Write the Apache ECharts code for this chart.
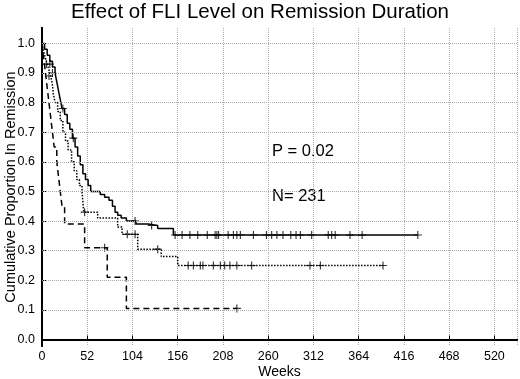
<!DOCTYPE html>
<html>
<head>
<meta charset="utf-8">
<script src="https://cdn.jsdelivr.net/npm/echarts@6/dist/echarts.min.js"></script>
<style>
  html, body { margin: 0; padding: 0; background: #fff; }
  #chart { width: 520px; height: 379px; }
</style>
</head>
<body>
<div id="chart"></div>
<script>
// x ticks in weeks, y ticks as proportions
const xTicks = [0, 52, 104, 156, 208, 260, 312, 364, 416, 468, 520];
const yTicks = [0, 0.1, 0.2, 0.3, 0.4, 0.5, 0.6, 0.7, 0.8, 0.9, 1.0];

// solid curve
const solidWeeks = [0, 3, 6, 9, 12, 15, 17, 19, 21, 23, 26, 29, 32, 35, 38, 41, 44, 47, 50, 53, 56, 67, 72, 77, 81, 84, 87, 91, 97, 108, 122, 133, 151, 432];
const solidSurv = [1.0, 0.98, 0.96, 0.94, 0.92, 0.90, 0.87, 0.84, 0.81, 0.78, 0.76, 0.73, 0.71, 0.68, 0.65, 0.62, 0.59, 0.56, 0.54, 0.52, 0.50, 0.49, 0.48, 0.47, 0.45, 0.43, 0.42, 0.41, 0.40, 0.39, 0.385, 0.375, 0.353, 0.353];
const solidCensWeeks = [9, 12, 24, 36, 107, 126, 153, 161, 170, 179, 190, 199, 201, 203, 214, 220, 224, 228, 243, 258, 264, 270, 277, 286, 292, 297, 310, 329, 333, 337, 354, 368, 432];
const solidCensSurv = [0.93, 0.90, 0.78, 0.68, 0.40, 0.385, 0.353, 0.353, 0.353, 0.353, 0.353, 0.353, 0.353, 0.353, 0.353, 0.353, 0.353, 0.353, 0.353, 0.353, 0.353, 0.353, 0.353, 0.353, 0.353, 0.353, 0.353, 0.353, 0.353, 0.353, 0.353, 0.353, 0.353];

// dotted curve
const dotWeeks = [0, 2, 4, 6, 8, 10, 12, 13, 15, 18, 21, 24, 27, 30, 34, 37, 40, 43, 46, 48, 64, 87, 92, 110, 137, 156, 392];
const dotSurv = [1.0, 0.97, 0.95, 0.93, 0.91, 0.89, 0.86, 0.83, 0.80, 0.77, 0.74, 0.70, 0.67, 0.64, 0.60, 0.57, 0.54, 0.52, 0.50, 0.43, 0.41, 0.38, 0.355, 0.305, 0.28, 0.25, 0.25];
const dotCensWeeks = [5, 8, 49, 98, 107, 133, 168, 174, 182, 185, 197, 205, 210, 216, 224, 241, 308, 320, 392];
const dotCensSurv = [0.93, 0.89, 0.43, 0.355, 0.355, 0.305, 0.25, 0.25, 0.25, 0.25, 0.25, 0.25, 0.25, 0.25, 0.25, 0.25, 0.25, 0.25, 0.25];

// dashed curve
const dashWeeks = [0, 2, 4, 6, 8, 10, 12, 14, 17, 19, 21, 23, 26, 49, 75, 97, 224];
const dashSurv = [1.0, 0.95, 0.90, 0.85, 0.80, 0.75, 0.70, 0.65, 0.60, 0.55, 0.50, 0.45, 0.39, 0.31, 0.21, 0.105, 0.105];
const dashCensWeeks = [72, 224];
const dashCensSurv = [0.31, 0.105];

const FONT = 'Liberation Sans, Arial, sans-serif';
const CROSS = 'path://M4.3,0H5.7V10H4.3ZM0,4.3H10V5.7H0Z';

const chart = echarts.init(document.getElementById('chart'));

function pairs(xs, ys) {
  return xs.map((x, i) => [x, ys[i]]);
}

function curve(name, xs, ys, lineType) {
  return {
    name: name,
    type: 'line',
    step: 'end',
    showSymbol: false,
    z: 3,
    data: pairs(xs, ys),
    lineStyle: { color: '#000', width: 1.5, type: lineType },
    itemStyle: { color: '#000' }
  };
}

function censors(name, xs, ys) {
  return {
    name: name,
    type: 'scatter',
    symbol: CROSS,
    symbolSize: 8,
    z: 4,
    data: pairs(xs, ys),
    itemStyle: { color: '#000' }
  };
}

chart.setOption({
  animation: false,
  textStyle: { fontFamily: FONT },
  title: {
    text: 'Effect of FLI Level on Remission Duration',
    left: 'center',
    top: 2,
    padding: 0,
    textStyle: { fontFamily: FONT, fontSize: 20.5, fontWeight: 'normal', color: '#000' }
  },
  grid: { left: 42, right: 3, top: 28, bottom: 33, outerBoundsMode: 'none', containLabel: false },
  xAxis: [{
    type: 'value',
    min: 0,
    max: 546,
    interval: 52,
    name: 'Weeks',
    nameLocation: 'middle',
    nameGap: 19,
    nameMoveOverlap: false,
    nameTextStyle: { fontFamily: FONT, fontSize: 14, color: '#000' },
    axisLine: { lineStyle: { color: '#000', width: 2 } },
    axisTick: { inside: true, length: 4, lineStyle: { color: '#000' } },
    axisLabel: { showMaxLabel: false, margin: 4, fontFamily: FONT, fontSize: 12.5, color: '#000' },
    splitLine: { lineStyle: { type: 'dotted', color: '#aaa', width: 1 } }
  }, {
    type: 'value',
    position: 'top',
    min: 0,
    max: 546,
    axisLine: { show: true, lineStyle: { color: '#000', width: 2 } },
    axisTick: { show: false },
    axisLabel: { show: false },
    splitLine: { show: false }
  }],
  yAxis: [{
    type: 'value',
    min: -0.022,
    max: 1.052,
    name: 'Cumulative Proportion In Remission',
    nameLocation: 'middle',
    nameGap: 24,
    nameMoveOverlap: false,
    nameTextStyle: { fontFamily: FONT, fontSize: 14.5, color: '#000' },
    axisLine: { show: true, lineStyle: { color: '#000', width: 2 } },
    axisTick: { customValues: yTicks, inside: true, length: 4, lineStyle: { color: '#000' } },
    axisLabel: {
      customValues: yTicks,
      margin: 7,
      fontFamily: FONT,
      fontSize: 12.5,
      color: '#000',
      formatter: v => v.toFixed(1)
    },
    splitLine: { show: false }
  }, {
    type: 'value',
    position: 'right',
    min: -0.022,
    max: 1.052,
    axisLine: { show: true, lineStyle: { color: '#000', width: 2 } },
    axisTick: { show: false },
    axisLabel: { show: false },
    splitLine: { show: false }
  }],
  graphic: [
    { type: 'text', left: 272, top: 143, style: { text: 'P = 0.02', font: '16.5px ' + FONT, fill: '#000' } },
    { type: 'text', left: 272, top: 188, style: { text: 'N= 231', font: '16.5px ' + FONT, fill: '#000' } }
  ],
  series: [
    {
      name: 'grid',
      type: 'line',
      data: [],
      z: 1,
      silent: true,
      markLine: {
        silent: true,
        symbol: 'none',
        label: { show: false },
        lineStyle: { type: 'dotted', color: '#aaa', width: 1 },
        data: yTicks.slice(1).map(v => ({ yAxis: v }))
      }
    },
    curve('solid', solidWeeks, solidSurv, 'solid'),
    curve('dotted', dotWeeks, dotSurv, 'dotted'),
    curve('dashed', dashWeeks, dashSurv, [6, 4]),
    censors('solid censored', solidCensWeeks, solidCensSurv),
    censors('dotted censored', dotCensWeeks, dotCensSurv),
    censors('dashed censored', dashCensWeeks, dashCensSurv)
  ]
});
</script>
</body>
</html>
